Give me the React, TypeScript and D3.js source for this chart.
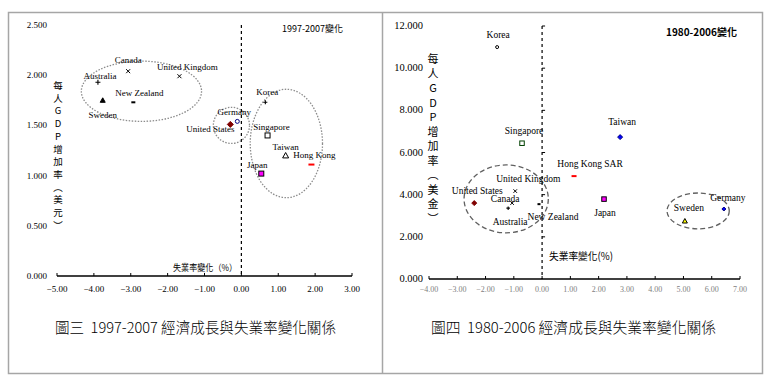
import React from "react";
import * as d3 from "d3";

// ---------- Data: 1997-2007 ----------
const countries97 = ["Australia", "Canada", "United Kingdom", "New Zealand", "Sweden", "United States", "Germany", "Korea", "Singapore", "Taiwan", "Hong Kong", "Japan"];
const unemp97 = [-3.89, -3.07, -1.68, -2.93, -3.76, -0.3, -0.11, 0.65, 0.71, 1.2, 1.9, 0.54];
const gdp97 = [1.93, 2.04, 1.99, 1.73, 1.75, 1.51, 1.54, 1.73, 1.4, 1.2, 1.11, 1.02];
const xTicks97 = [-5, -4, -3, -2, -1, 0, 1, 2, 3];
const yTicks97 = [0, 0.5, 1, 1.5, 2, 2.5];
// ellipse groups: center x, center y, radius x, radius y (data units)
const groups97cx = [-2.71, -0.27, 1.22];
const groups97cy = [1.84, 1.5, 1.32];
const groups97rx = [1.63, 0.49, 0.98];
const groups97ry = [0.3, 0.18, 0.54];

// ---------- Data: 1980-2006 ----------
const countries80 = ["Korea", "Singapore", "Taiwan", "Hong Kong SAR", "Japan", "Germany", "Sweden", "United States", "Canada", "United Kingdom", "Australia", "New Zealand"];
const unemp80 = [-1.59, -0.71, 2.76, 1.13, 2.19, 6.43, 5.05, -2.4, -1.06, -0.95, -1.2, -0.11];
const gdp80 = [11.0, 6.44, 6.73, 4.88, 3.79, 3.32, 2.75, 3.6, 3.6, 4.17, 3.36, 3.55];
const xTicks80 = [-4, -3, -2, -1, 0, 1, 2, 3, 4, 5, 6, 7];
const yTicks80 = [0, 2, 4, 6, 8, 10, 12];
const groups80cx = [-1.27, 5.52];
const groups80cy = [3.8, 3.23];
const groups80rx = [1.49, 1.1];
const groups80ry = [1.61, 0.85];

// ---------- Styles ----------
type M = { shape: string; fill: string; stroke: string; size: number };
const style97: Record<string, M> = {
  Australia: { shape: "plus", fill: "none", stroke: "#000", size: 5 },
  Canada: { shape: "x", fill: "none", stroke: "#000", size: 4 },
  "United Kingdom": { shape: "x", fill: "none", stroke: "#000", size: 4 },
  "New Zealand": { shape: "dash", fill: "none", stroke: "#000", size: 4 },
  Sweden: { shape: "tri", fill: "#000", stroke: "#000", size: 5 },
  "United States": { shape: "diamond", fill: "#800000", stroke: "#800000", size: 6 },
  Germany: { shape: "circle", fill: "#fff", stroke: "#000080", size: 5 },
  Korea: { shape: "plus", fill: "none", stroke: "#000", size: 4 },
  Singapore: { shape: "square", fill: "#fff", stroke: "#000", size: 5 },
  Taiwan: { shape: "tri", fill: "#fff", stroke: "#000", size: 6 },
  "Hong Kong": { shape: "dash", fill: "none", stroke: "#ff0000", size: 6 },
  Japan: { shape: "square", fill: "#ff00ff", stroke: "#000", size: 5 },
};
const style80: Record<string, M> = {
  Korea: { shape: "circle", fill: "#fff", stroke: "#000", size: 4 },
  Singapore: { shape: "square", fill: "#fff", stroke: "#004000", size: 4.5 },
  Taiwan: { shape: "diamond", fill: "#0000ff", stroke: "#000080", size: 5 },
  "Hong Kong SAR": { shape: "dash", fill: "none", stroke: "#ff0000", size: 5 },
  Japan: { shape: "square", fill: "#ff00ff", stroke: "#000", size: 4.5 },
  Germany: { shape: "diamond", fill: "#0000ff", stroke: "#000080", size: 4 },
  Sweden: { shape: "tri", fill: "#ffff00", stroke: "#000", size: 5 },
  "United States": { shape: "diamond", fill: "#800000", stroke: "#800000", size: 5 },
  Canada: { shape: "x", fill: "none", stroke: "#000", size: 3.5 },
  "United Kingdom": { shape: "x", fill: "none", stroke: "#000", size: 3.5 },
  Australia: { shape: "plus", fill: "none", stroke: "#000", size: 3.5 },
  "New Zealand": { shape: "dash", fill: "none", stroke: "#000", size: 3 },
};
// label offsets in px relative to marker (center of text)
const labelOff97: Record<string, [number, number]> = {
  Australia: [2, -6], Canada: [0, -11], "United Kingdom": [8, -9], "New Zealand": [6, -9],
  Sweden: [0, 15], "United States": [-20, 4], Germany: [-3, -10], Korea: [2, -10],
  Singapore: [4, -9], Taiwan: [0, -9], "Hong Kong": [3, -10], Japan: [-4, -9],
};
const labelOff80: Record<string, [number, number]> = {
  Korea: [1, -12], Singapore: [2, -13], Taiwan: [2, -15], "Hong Kong SAR": [16, -12],
  Japan: [1, 14], Germany: [4, -11], Sweden: [4, -13], "United States": [3, -12],
  Canada: [-7, -4], "United Kingdom": [13, -12], Australia: [2, 14], "New Zealand": [14, 13],
};

const LATIN = "'Liberation Serif', 'DejaVu Serif', serif";
const CJK = "'Noto Sans CJK TC', 'Noto Sans CJK SC', sans-serif";

function Marker({ m, x, y }: { m: M; x: number; y: number }) {
  const s = m.size / 2;
  switch (m.shape) {
    case "plus":
      return <path d={`M${x - s},${y}H${x + s}M${x},${y - s}V${y + s}`} stroke={m.stroke} strokeWidth={1.1} />;
    case "x":
      return <path d={`M${x - s},${y - s}L${x + s},${y + s}M${x - s},${y + s}L${x + s},${y - s}`} stroke={m.stroke} strokeWidth={1} />;
    case "dash":
      return <path d={`M${x - s},${y}H${x + s}`} stroke={m.stroke} strokeWidth={2} />;
    case "tri":
      return <path d={`M${x},${y - s}L${x + s},${y + s * 0.8}L${x - s},${y + s * 0.8}Z`} fill={m.fill} stroke={m.stroke} strokeWidth={1} />;
    case "diamond":
      return <path d={`M${x},${y - s}L${x + s},${y}L${x},${y + s}L${x - s},${y}Z`} fill={m.fill} stroke={m.stroke} strokeWidth={1} />;
    case "circle":
      return <circle cx={x} cy={y} r={s - 0.5} fill={m.fill} stroke={m.stroke} strokeWidth={1} />;
    case "square":
      return <rect x={x - s} y={y - s} width={2 * s} height={2 * s} fill={m.fill} stroke={m.stroke} strokeWidth={1} />;
  }
  return null;
}

type PanelProps = {
  countries: string[]; xs: number[]; ys: number[];
  xTicks: number[]; yTicks: number[];
  gcx: number[]; gcy: number[]; grx: number[]; gry: number[];
  styles: Record<string, M>; offs: Record<string, [number, number]>;
  xRange: [number, number]; yRange: [number, number];
  yLabelX: number; yLabelSize: number; xLabelY: number; xLabelColor: string; xLabelSize: number;
  labelSize: number; ellipseDash: string; ellipseColor: string;
  title: string; titleX: number; titleY: number; titleBold: boolean; titleSize: number;
  yTitle: string[]; yTitleX: number; yTitleY0: number; yTitleStep: number; yTitleSize: number;
  xTitle: string; xTitleX: number; xTitleY: number; xTitleAnchor: string; xTitleSize: number; xTitleLen: number;
  caption: string; captionX: number; captionY: number; captionLen: number;
  yFmt: (v: number) => string; yAxisTicks: boolean;
};

function Panel(p: PanelProps) {
  const x = d3.scaleLinear().domain([p.xTicks[0], p.xTicks[p.xTicks.length - 1]]).range(p.xRange);
  const y = d3.scaleLinear().domain([p.yTicks[0], p.yTicks[p.yTicks.length - 1]]).range(p.yRange);
  const x0 = x(0);
  return (
    <g>
      {/* x axis */}
      <line x1={p.xRange[0]} x2={p.xRange[1]} y1={p.yRange[0]} y2={p.yRange[0]} stroke="#000" strokeWidth={1.3} />
      {p.xTicks.map((t) => (
        <g key={"xt" + t}>
          <line x1={x(t)} x2={x(t)} y1={p.yRange[0]} y2={p.yRange[0] - 3} stroke="#000" />
          <text x={x(t)} y={p.xLabelY} textAnchor="middle" fontFamily={LATIN} fontSize={p.xLabelSize} fill={p.xLabelColor}>
            {d3.format(".2f")(t)}
          </text>
        </g>
      ))}
      {/* y tick labels */}
      {p.yTicks.map((t) => (
        <g key={"yt" + t}>
          <text x={p.yLabelX} y={y(t) + 3} textAnchor="end" fontFamily={LATIN} fontSize={p.yLabelSize} fill="#000">
            {p.yFmt(t)}
          </text>
          {p.yAxisTicks && t > 0 && (
            <line x1={x0} x2={x0 + 3} y1={y(t)} y2={y(t)} stroke="#000" />
          )}
        </g>
      ))}
      {/* vertical dashed axis at 0 */}
      <line x1={x0} x2={x0} y1={p.yRange[1]} y2={p.yRange[0]} stroke="#000" strokeWidth={1.2} strokeDasharray="3,3" />
      {/* ellipses */}
      {p.gcx.map((c, i) => (
        <ellipse key={"el" + i} cx={x(c)} cy={y(p.gcy[i])}
          rx={x(c + p.grx[i]) - x(c)} ry={y(p.gcy[i]) - y(p.gcy[i] + p.gry[i])}
          fill="none" stroke={p.ellipseColor} strokeWidth={1.3} strokeDasharray={p.ellipseDash} />
      ))}
      {/* points */}
      {p.countries.map((c, i) => {
        const px = x(p.xs[i]);
        const py = y(p.ys[i]);
        const o = p.offs[c];
        return (
          <g key={c}>
            <Marker m={p.styles[c]} x={px} y={py} />
            <text x={px + o[0]} y={py + o[1] + p.labelSize * 0.35} textAnchor="middle" fontFamily={LATIN} fontSize={p.labelSize} fill="#000">
              {c}
            </text>
          </g>
        );
      })}
      {/* title */}
      <text x={p.titleX} y={p.titleY} fontFamily={CJK} fontSize={p.titleSize} fontWeight={p.titleBold ? 700 : 400} fill="#000">
        {p.title}
      </text>
      {/* y title stacked */}
      {p.yTitle.map((ch, i) => (
        <text key={"yc" + i} x={p.yTitleX} y={p.yTitleY0 + i * p.yTitleStep} textAnchor="middle" dominantBaseline="central"
          fontFamily={CJK} fontSize={p.yTitleSize} fill="#000">
          {ch}
        </text>
      ))}
      {/* x title */}
      <text x={p.xTitleX} y={p.xTitleY} textAnchor={p.xTitleAnchor as any} fontFamily={CJK} fontSize={p.xTitleSize}
        textLength={p.xTitleLen} lengthAdjust="spacingAndGlyphs" fill="#000">
        {p.xTitle}
      </text>
      {/* caption */}
      <text x={p.captionX} y={p.captionY} fontFamily={CJK} fontSize={15} fontWeight={300}
        textLength={p.captionLen} lengthAdjust="spacingAndGlyphs" fill="#000" style={{ whiteSpace: "pre" }}>
        {p.caption}
      </text>
    </g>
  );
}

export default function App() {
  return (
    <div style={{ position: "absolute", left: 0, top: 0 }}>
      <svg width={773} height={381} style={{ display: "block", background: "#fff" }}>
        <rect x={0} y={0} width={773} height={381} fill="#fff" />
        {/* frames */}
        <rect x={8.5} y={12.5} width={754} height={361} fill="none" stroke="#a6a6a6" strokeWidth={1.5} />
        <line x1={382.5} x2={382.5} y1={12.5} y2={373.5} stroke="#a6a6a6" strokeWidth={1.5} />
        <Panel
          countries={countries97} xs={unemp97} ys={gdp97} xTicks={xTicks97} yTicks={yTicks97}
          gcx={groups97cx} gcy={groups97cy} grx={groups97rx} gry={groups97ry}
          styles={style97} offs={labelOff97}
          xRange={[57, 352]} yRange={[276, 25]}
          yLabelX={47} yLabelSize={9} xLabelY={292} xLabelColor="#000" xLabelSize={9}
          labelSize={9} ellipseDash="1.5,1.5" ellipseColor="#8c8c8c"
          title="1997-2007變化" titleX={282} titleY={32} titleBold={false} titleSize={9}
          yTitle={["每", "人", "G", "D", "P", "增", "加", "率", "︵", "美", "元", "︶"]}
          yTitleX={58} yTitleY0={85} yTitleStep={12.7} yTitleSize={9.5}
          xTitle="失業率變化（%）" xTitleX={173} xTitleY={271} xTitleAnchor="start" xTitleSize={9} xTitleLen={64}
          caption={"圖三\u00a0\u00a01997-2007\u00a0經濟成長與失業率變化關係"} captionX={55} captionY={333} captionLen={281}
          yFmt={d3.format(".3f")} yAxisTicks={false}
        />
        <Panel
          countries={countries80} xs={unemp80} ys={gdp80} xTicks={xTicks80} yTicks={yTicks80}
          gcx={groups80cx} gcy={groups80cy} grx={groups80rx} gry={groups80ry}
          styles={style80} offs={labelOff80}
          xRange={[429, 740]} yRange={[279, 26]}
          yLabelX={423} yLabelSize={10.5} xLabelY={292} xLabelColor="#808080" xLabelSize={8}
          labelSize={9.5} ellipseDash="5,3" ellipseColor="#606060"
          title="1980-2006變化" titleX={666} titleY={36} titleBold={true} titleSize={10}
          yTitle={["每", "人", "G", "D", "P", "增", "加", "率", "︵", "美", "金", "︶"]}
          yTitleX={433} yTitleY0={58} yTitleStep={14.5} yTitleSize={11}
          xTitle="失業率變化(%)" xTitleX={549} xTitleY={260} xTitleAnchor="start" xTitleSize={10.5} xTitleLen={64}
          caption={"圖四\u00a0\u00a01980-2006\u00a0經濟成長與失業率變化關係"} captionX={431} captionY={333} captionLen={285}
          yFmt={d3.format(".3f")} yAxisTicks={true}
        />
      </svg>
    </div>
  );
}
